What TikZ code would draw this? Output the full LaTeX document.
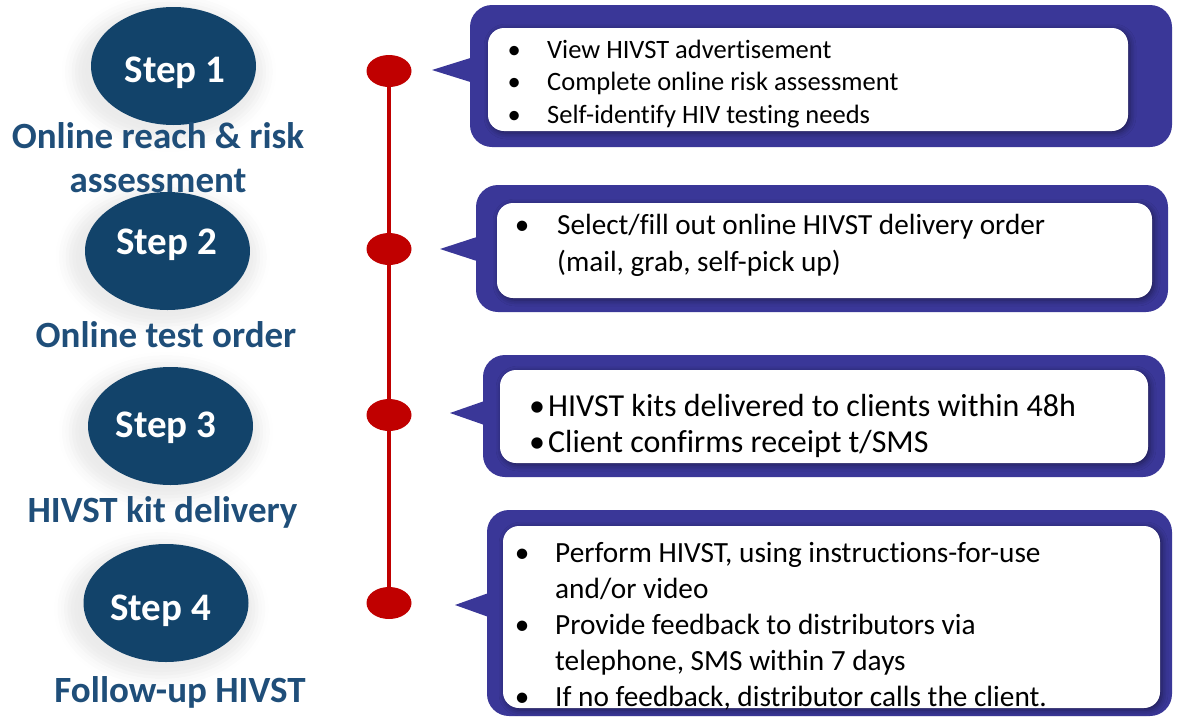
\documentclass[tikz,border=0pt]{standalone}
\usepackage{fontspec}
\setmainfont{Carlito}[Ligatures=NoCommon]
\usetikzlibrary{shapes.geometric,shadows.blur}
\definecolor{stepnavy}{RGB}{18,67,106}
\definecolor{labelblue}{RGB}{31,78,121}
\definecolor{calloutblue}{RGB}{58,55,152}
\definecolor{dotred}{RGB}{192,0,0}
\begin{document}
\begin{tikzpicture}[x=1pt,y=-1pt,
  stepoval/.style={ellipse, fill=stepnavy, minimum width=165pt, minimum height=118pt, inner sep=0pt,
    blur shadow={shadow xshift=-4pt, shadow yshift=-5pt, shadow scale=1.16,
      shadow blur radius=10pt, shadow opacity=8}},
  steptext/.style={text=white, font=\fontsize{39}{44}\selectfont\bfseries, inner sep=0pt, anchor=base},
  steplabel/.style={text=labelblue, font=\fontsize{37}{44}\selectfont\bfseries, inner sep=0pt,
    anchor=base, align=center},
  outerbox/.style={fill=calloutblue, rounded corners=22pt, inner sep=0pt},
  innerbox/.style={fill=white, rounded corners=16pt, inner sep=0pt,
    blur shadow={shadow xshift=2pt, shadow yshift=-2pt, shadow blur radius=6pt,
      shadow opacity=45}},
  pointer/.style={fill=calloutblue},
  bullets/.style={inner sep=0pt, anchor=base west, text=black},
  timeline/.style={draw=dotred, line width=3.5pt},
  dot/.style={ellipse, fill=dotred, minimum width=45pt, minimum height=32pt, inner sep=0pt}
]
\useasboundingbox (0,0) rectangle (1178,718);

% ---- step ovals and their captions ----
\node[stepoval] (e1) at (173.5,66) {};
\node[stepoval] (e2) at (167.5,251) {};
\node[stepoval] (e3) at (170.5,426) {};
\node[stepoval] (e4) at (166,603) {};

\node[steptext] (t1) at (175,82) {Step 1};
\node[steptext] (t2) at (166.5,254) {Step 2};
\node[steptext] (t3) at (166,437) {Step 3};
\node[steptext] (t4) at (160.5,620) {Step 4};

\node[steplabel] (l1) at (158,148) {Online reach \& risk};
\node[steplabel] (l1b) at (158,192) {assessment};
\node[steplabel] (l2) at (166,347) {Online test order};
\node[steplabel] (l3) at (162.5,522) {HIVST kit delivery};
\node[steplabel] (l4) at (180,702) {Follow-up HIVST};

% ---- timeline ----
\coordinate (d1c) at (389,71);
\coordinate (d4c) at (389,603);
\draw[timeline] (d1c) -- (d4c);
\node[dot] (d1) at (389,71) {};
\node[dot] (d2) at (389,249) {};
\node[dot] (d3) at (389,415) {};
\node[dot] (d4) at (389,603) {};

% ---- callout 1 ----
\node[outerbox, minimum width=702pt, minimum height=142pt] (o1) at (821,76) {};
\coordinate (p1) at (432,70);
\fill[pointer] (p1) -- ++(48,-15) -- ++(0,30) -- cycle;
\node[innerbox, minimum width=640pt, minimum height=103pt] (w1) at (808,79.5) {};
\node[bullets, font=\fontsize{26.5}{32.5}\selectfont] (x1) at (481,58) {%
  \begin{tabular}[t]{@{}l@{}l@{}}
  \makebox[66pt]{\textbullet} & View HIVST advertisement\\
  \makebox[66pt]{\textbullet} & Complete online risk assessment\\
  \makebox[66pt]{\textbullet} & Self-identify HIV testing needs
  \end{tabular}};

% ---- callout 2 ----
\node[outerbox, minimum width=692pt, minimum height=127pt] (o2) at (822,248.5) {};
\coordinate (p2) at (440,249);
\fill[pointer] (p2) -- ++(46,-15) -- ++(0,30) -- cycle;
\node[innerbox, minimum width=655pt, minimum height=95pt] (w2) at (824.5,250.5) {};
\node[bullets, font=\fontsize{29.2}{37}\selectfont] (x2) at (487,234) {%
  \begin{tabular}[t]{@{}l@{}l@{}}
  \makebox[70pt]{\textbullet} & Select/fill out online HIVST delivery order\\
   & (mail, grab, self-pick up)
  \end{tabular}};

% ---- callout 3 ----
\node[outerbox, minimum width=682pt, minimum height=122pt] (o3) at (824,416) {};
\coordinate (p3) at (450,413);
\fill[pointer] (p3) -- ++(43,-15) -- ++(0,30) -- cycle;
\node[innerbox, minimum width=648pt, minimum height=93pt] (w3) at (824,416.5) {};
\node[bullets, font=\fontsize{32}{36}\selectfont] (x3) at (526,416) {%
  \begin{tabular}[t]{@{}l@{}l@{}}
  \makebox[22pt]{\textbullet} & HIVST kits delivered to clients within 48h\\
  \makebox[22pt]{\textbullet} & Client confirms receipt t/SMS
  \end{tabular}};

% ---- callout 4 ----
\node[outerbox, minimum width=685pt, minimum height=206pt] (o4) at (829.5,613) {};
\coordinate (p4) at (455,605);
\fill[pointer] (p4) -- ++(42,-15) -- ++(0,30) -- cycle;
\node[innerbox, minimum width=657pt, minimum height=182pt] (w4) at (831.5,617) {};
\node[bullets, font=\fontsize{29.3}{36}\selectfont] (x4) at (489,562) {%
  \begin{tabular}[t]{@{}l@{}l@{}}
  \makebox[66pt]{\textbullet} & Perform HIVST, using instructions-for-use\\
   & and/or video\\
  \makebox[66pt]{\textbullet} & Provide feedback to distributors via\\
   & telephone, SMS within 7 days\\
  \makebox[66pt]{\textbullet} & If no feedback, distributor calls the client.
  \end{tabular}};
\end{tikzpicture}
\end{document}
